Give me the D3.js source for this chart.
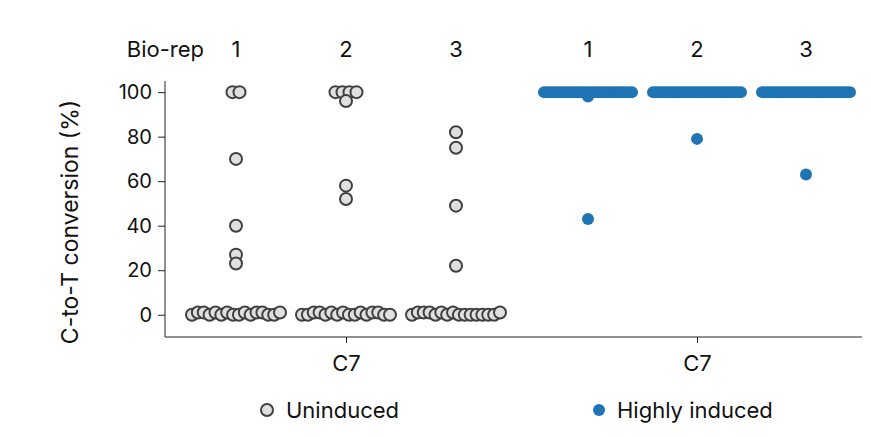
<!DOCTYPE html>
<html><head><meta charset="utf-8">
<script src="https://cdn.jsdelivr.net/npm/d3@7"></script>
<style>body{margin:0;background:#fff}text{font-family:Inter,Roboto,sans-serif;fill:#111}</style>
</head><body><svg id="chart" width="871" height="437"></svg>
<script>
const reps = ["1", "2", "3"];
const yTicks = [0, 20, 40, 60, 80, 100];
// uninduced, per bio-rep
const uninduced = [
  [100, 100, 70, 40, 27, 23, 0, 1, 1, 0, 1, 0, 1, 0, 0, 1, 0, 1, 1, 0, 0, 1],
  [100, 100, 100, 100, 96, 58, 52, 0, 0, 1, 1, 0, 1, 0, 1, 0, 0, 1, 0, 1, 1, 0, 0],
  [82, 75, 49, 22, 0, 1, 1, 1, 0, 1, 0, 1, 0, 0, 0, 0, 0, 0, 0, 1]
];
// highly induced, per bio-rep
const induced = [
  [98, 43].concat(Array(30).fill(100)),
  [79].concat(Array(31).fill(100)),
  [63].concat(Array(31).fill(100))
];

const svg = d3.select('#chart');
const y = d3.scaleLinear().domain([-10, 105]).range([337, 81]);
const xU = d3.scalePoint().domain(reps).range([236, 456]);
const xI = d3.scalePoint().domain(reps).range([588, 806]);

// simple swarm: low values share one row, others spread by exact value
function layout(vals, cx, width) {
  const bins = d3.group(vals.map(v => ({v})), d => d.v <= 1 ? 0 : d.v);
  const out = [];
  bins.forEach(pts => {
    const n = pts.length;
    const step = n > 1 ? Math.min(7, width / (n - 1)) : 0;
    pts.forEach((p, i) => out.push({v: p.v, x: cx + (i - (n - 1) / 2) * step}));
  });
  return out;
}

// axes
const yAxis = svg.append('g').attr('transform', 'translate(165,0)')
  .call(d3.axisLeft(y).tickValues(yTicks).tickSize(7).tickPadding(6));
yAxis.select('.domain').attr('d', `M0,${y(105)}V${y(-10)}`);
yAxis.selectAll('text').style('font-size', '20px');

const xb = d3.scalePoint().domain(['a', 'b']).range([346, 697]);
const xAxis = svg.append('g').attr('transform', `translate(0,${y(-10)})`)
  .call(d3.axisBottom(xb).tickSize(6).tickFormat(() => 'C7').tickPadding(12));
xAxis.select('.domain').attr('d', 'M165,0H862');
xAxis.selectAll('text').style('font-size', '22px');
svg.selectAll('g').attr('font-size', null).attr('font-family', null);
svg.selectAll('.domain, .tick line').attr('stroke', '#222');

svg.append('text').attr('transform', 'translate(78,222) rotate(-90)')
  .attr('text-anchor', 'middle').style('font-size', '23px').text('C-to-T conversion (%)');

svg.append('text').attr('x', 204).attr('y', 57).attr('text-anchor', 'end')
  .style('font-size', '22px').text('Bio-rep');
[xU, xI].forEach(sc => reps.forEach(r => svg.append('text').attr('x', sc(r)).attr('y', 57)
  .attr('text-anchor', 'middle').style('font-size', '22px').text(r)));

reps.forEach((r, i) => {
  svg.append('g').selectAll('circle').data(layout(uninduced[i], xU(r), 88)).join('circle')
    .attr('cx', d => d.x).attr('cy', d => y(d.v)).attr('r', 6)
    .attr('fill', '#e0e0e0').attr('stroke', '#404040').attr('stroke-width', 2);
  svg.append('g').selectAll('circle').data(layout(induced[i], xI(r), 88)).join('circle')
    .attr('cx', d => d.x).attr('cy', d => y(d.v)).attr('r', 6)
    .attr('fill', '#1f74b4');
});

// legend
const lg = svg.append('g');
lg.append('circle').attr('cx', 267).attr('cy', 410).attr('r', 6)
  .attr('fill', '#e0e0e0').attr('stroke', '#404040').attr('stroke-width', 2);
lg.append('text').attr('x', 286).attr('y', 418).style('font-size', '22px').text('Uninduced');
lg.append('circle').attr('cx', 599).attr('cy', 410).attr('r', 6).attr('fill', '#1f74b4');
lg.append('text').attr('x', 617).attr('y', 418).style('font-size', '22px').text('Highly induced');
</script></body></html>
